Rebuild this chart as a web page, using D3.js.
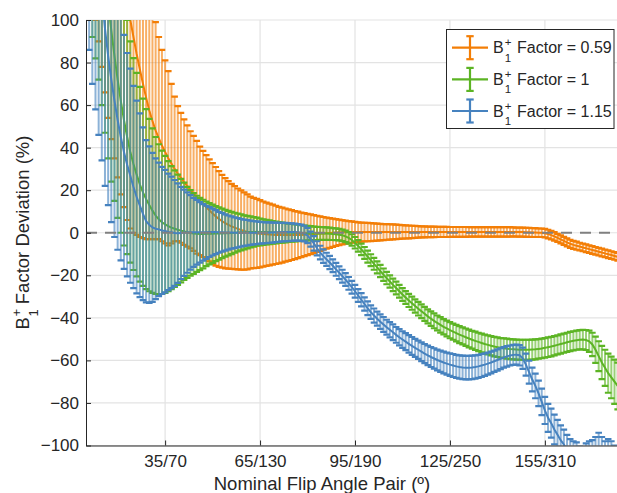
<!DOCTYPE html>
<html><head><meta charset="utf-8">
<script src="https://cdn.jsdelivr.net/npm/d3@7"></script>
<style>
body{margin:0;background:#fff}
svg{display:block}
text{font-family:"Liberation Sans",Arial,Helvetica,sans-serif;fill:#262626}
</style>
</head><body>
<svg id="chart" width="617" height="493"></svg>
<script>
// ---------- DATA ----------
const angles = [
11,12,13,14,15,16,17,18,19,20,
21,22,23,24,25,26,27,28,29,30,
31,32,33,34,35,36,37,38,39,40,
41,42,43,44,45,46,47,48,49,50,
51,52,53,54,55,56,57,58,59,60,
61,62,63,64,65,66,67,68,69,70,
71,72,73,74,75,76,77,78,79,80,
81,82,83,84,85,86,87,88,89,90,
91,92,93,94,95,96,97,98,99,100,
101,102,103,104,105,106,107,108,109,110,
111,112,113,114,115,116,117,118,119,120,
121,122,123,124,125,126,127,128,129,130,
131,132,133,134,135,136,137,138,139,140,
141,142,143,144,145,146,147,148,149,150,
151,152,153,154,155,156,157,158,159,160,
161,162,163,164,165,166,167,168,169,170,
171,172,173,174,175,176,177,178];

const xTickValues = [35,65,95,125,155];
const xTickLabels = ["35/70","65/130","95/190","125/250","155/310"];
const yTickValues = [-100,-80,-60,-40,-20,0,20,40,60,80,100];
const legendLabels = ["0.59","1","1.15"];

// B1+ factor = 0.59
const orangeMean = [
350,313,281,253,228,206,187,170,155,142,
130,119,109,100,92,84,77,70,63.5,57.5,
52.5,48,44.5,41,38,35,32.5,30,27.8,25.8,
23.8,22,20.2,18.5,16.7,15,13.5,12,10.5,9,
7.7,6.5,5.4,4.5,3.7,3,2.4,1.8,1.3,0.8,
0.4,0.1,-0.1,-0.3,-0.5,-0.6,-0.7,-0.8,-0.9,-1,
-1.1,-1.1,-1.1,-1.1,-1.1,-1.1,-1,-1,-0.9,-0.8,
-0.7,-0.6,-0.5,-0.4,-0.3,-0.2,-0.1,0,0.1,0.2,
0.2,0.3,0.3,0.3,0.3,0.3,0.3,0.3,0.3,0.3,
0.3,0.3,0.3,0.3,0.4,0.4,0.4,0.4,0.4,0.4,
0.4,0.4,0.4,0.4,0.4,0.4,0.4,0.4,0.4,0.4,
0.4,0.4,0.4,0.4,0.4,0.4,0.4,0.4,0.4,0.4,
0.4,0.4,0.4,0.4,0.4,0.4,0.4,0.4,0.4,0.4,
0.4,0.4,0.4,0.4,0.4,0.3,0.3,0.3,0.2,0.2,
0.1,0.1,0,0,-0.2,-0.6,-1.1,-1.7,-2.4,-3.1,
-3.8,-4.5,-5.2,-5.7,-6.1,-6.5,-6.9,-7.3,-7.7,-8.1,
-8.5,-8.9,-9.3,-9.7,-10.1,-10.5,-10.9,-11.3];
const orangeErr = [
230,203,181,163,150,140,133,126,120,116,
112,107,103,98,92,85,79,72.5,66.5,60.5,
55.5,51,47.5,45,43,41,37.5,34,31.7,30.5,
29.5,28.5,27.5,27,26.5,25.5,25,24.5,24,23.7,
23.2,22.5,21.8,21.2,20.6,20,19.5,19,18.6,18.2,
17.6,16.9,16.5,16.2,15.8,15.3,14.9,14.5,14.1,13.7,
13.3,12.9,12.5,12.1,11.7,11.3,10.9,10.5,10.1,9.7,
9.3,8.9,8.5,8.1,7.7,7.3,7,6.6,6.3,6,
5.7,5.4,5.2,5,4.8,4.6,4.5,4.4,4.3,4.2,
4.1,4,3.9,3.8,3.7,3.6,3.5,3.4,3.3,3.2,
3.1,3,2.9,2.8,2.7,2.6,2.6,2.5,2.5,2.5,
2.4,2.4,2.4,2.4,2.3,2.3,2.3,2.3,2.3,2.3,
2.2,2.2,2.2,2.2,2.2,2.2,2.2,2.2,2.2,2.2,
2.2,2.2,2.2,2.2,2.1,2.1,2.1,2.1,2.1,2.1,
2.1,2.1,2,2,2,2,2,2,1.9,1.9,
1.9,1.9,1.9,1.9,1.9,1.8,1.8,1.8,1.8,1.8,
1.8,1.8,1.8,1.8,1.8,1.8,1.8,1.8];

// B1+ factor = 1
const greenMean = [
207,188,170,153,137,122,108,95,83,72,
62,53,45,38,32.3,27.3,22.8,19,15.8,13,
10.4,8.1,6.3,4.9,3.9,3.1,2.4,1.9,1.4,1,
0.7,0.2,-0.1,-0.4,-0.5,-0.6,-0.6,-0.5,-0.5,-0.5,
-0.4,-0.4,-0.3,-0.2,-0.2,-0.1,0,0.1,0.2,0.2,
0.3,0.4,0.4,0.5,0.4,0.3,0.3,0.2,0.2,0.1,
0.1,0.1,0,0,0,-0.1,-0.1,-0.1,-0.2,-0.2,
-0.2,-0.3,-0.3,-0.3,-0.4,-0.4,-0.5,-0.6,-0.7,-0.9,
-1.2,-1.7,-2.4,-3.4,-4.7,-6.2,-7.8,-9.5,-11.2,-12.9,
-14.6,-16.3,-18,-19.7,-21.3,-22.9,-24.5,-26,-27.5,-29,
-30.4,-31.8,-33.1,-34.4,-35.7,-36.9,-38.1,-39.3,-40.4,-41.4,
-42.4,-43.3,-44.2,-45,-45.8,-46.5,-47.2,-47.9,-48.5,-49.1,
-49.7,-50.3,-50.8,-51.3,-51.8,-52.3,-52.7,-53.1,-53.5,-53.8,
-54.1,-54.3,-54.5,-54.7,-54.8,-54.9,-55,-55,-55,-55,
-54.9,-54.8,-54.6,-54.4,-54.1,-53.8,-53.5,-53.1,-52.7,-52.3,
-51.9,-51.5,-51.1,-50.8,-50.5,-50.3,-50.2,-50.4,-51,-52.5,
-55,-58,-61,-63.5,-66,-68,-70,-72];
const greenErr = [
103,96,88,81,77,75,73,71,68,65,
62,59,55,52,49.8,47.8,45.8,44,42.3,40.5,
38.7,36.9,35.3,33.7,32.2,30.6,28.9,27.4,25.9,24.3,
22.9,21.4,20.1,19,17.9,17,16.1,15.2,14.4,13.7,
12.9,12.3,11.6,11,10.5,9.9,9.4,8.9,8.5,8,
7.6,7.3,6.9,6.6,6.3,6,5.8,5.6,5.3,5.1,
4.9,4.7,4.5,4.3,4.2,4,3.9,3.7,3.6,3.4,
3.3,3.2,3.1,3,3,2.9,2.9,2.8,2.8,2.7,
2.7,2.7,2.7,2.7,2.7,2.7,2.7,2.8,2.8,2.8,
2.8,2.8,2.9,2.9,2.9,2.9,2.9,3,3,3,
3,3.1,3.1,3.1,3.2,3.2,3.3,3.3,3.4,3.5,
3.5,3.6,3.6,3.7,3.8,3.8,3.9,4,4,4.1,
4.2,4.2,4.3,4.3,4.4,4.4,4.5,4.5,4.6,4.6,
4.6,4.7,4.7,4.7,4.7,4.7,4.7,4.7,4.7,4.7,
4.7,4.7,4.6,4.6,4.6,4.6,4.6,4.5,4.5,4.5,
4.5,4.5,4.5,4.5,4.5,4.5,4.6,4.7,5,5.5,
6.2,7,7.8,8.5,9.2,9.8,10.4,11];

// B1+ factor = 1.15
const blueMean = [
200,172,148,128,111,96,83,72,62,53,
45,38,32,26.8,21.5,16.8,12.9,8.9,5.4,3.8,
2.5,1.9,1.6,1.1,0.8,0.4,0.2,-0.1,-0.2,-0.1,
0,0.1,0.2,0.2,0.2,0.2,0.2,0.2,0.3,0.3,
0.3,0.2,0.2,0.1,0.1,0.1,0,0,0,0,
0,0,0,0,0,0,0,0.1,0.1,0.2,
0.2,0.3,0.3,0.3,0.3,0.3,0.2,0,-0.4,-1.3,
-3,-5,-7.3,-9.3,-11,-12.5,-14,-15.5,-17.2,-18.8,
-20.4,-22,-23.8,-25.6,-27.5,-29.5,-31.5,-33.5,-35.5,-37.3,
-38.9,-40.4,-41.8,-43.1,-44.4,-45.6,-46.8,-48,-49.1,-50.2,
-51.2,-52.2,-53.2,-54.1,-55,-55.9,-56.8,-57.6,-58.4,-59.1,
-59.8,-60.4,-61,-61.5,-62,-62.4,-62.8,-63.1,-63.3,-63.4,
-63.4,-63.3,-63.1,-62.8,-62.4,-62,-61.5,-61,-60.4,-59.8,
-59.2,-58.6,-58.1,-57.7,-57.4,-57.3,-57.6,-59,-62,-65.5,
-69,-72,-75.5,-79.5,-83.5,-87,-89.5,-92.5,-95,-97.5,
-99.5,-102,-104,-105.5,-106,-108,-109,-108,-107,-107,
-106,-105,-106,-108,-107,-108,-110,-112];
const blueErr = [
114,102,90,82,77,74,70,67,64,61,
58,55,52.5,50.3,47.5,45.3,43.2,40.6,38.1,36.8,
35,33.1,31.4,29.9,28.8,27.4,26.2,24.9,23.4,21.7,
20.3,18.9,17.5,16.2,15.2,14.2,13.3,12.5,11.7,11,
10.3,9.6,9.1,8.5,8,7.6,7.2,6.9,6.5,6.2,
6,5.7,5.5,5.3,5.1,5,4.9,4.8,4.7,4.6,
4.5,4.4,4.3,4.2,4.1,4,3.9,3.8,3.7,3.6,
3.5,3.4,3.3,3.2,3.2,3.1,3.1,3,3,3,
3,3,3,3,3,3,3.1,3.1,3.2,3.2,
3.3,3.3,3.4,3.5,3.5,3.6,3.7,3.7,3.8,3.9,
4,4.1,4.2,4.2,4.3,4.4,4.5,4.6,4.7,4.8,
4.9,5,5.1,5.2,5.3,5.4,5.4,5.5,5.5,5.5,
5.5,5.5,5.5,5.4,5.4,5.3,5.2,5.1,5,5,
4.9,4.8,4.8,4.7,4.7,4.7,4.8,5,5.2,5.4,
5.6,5.8,6,6.2,6.4,6.6,6.8,7,7,7,
7,7,7,7.5,7.5,7.5,8,9,9,9.5,
10,11,10,10,10,10,10,10];

const colors = ["#f37e06","#5cb424","#4682bf"];
const series = [
  {label: legendLabels[0], color: colors[0], mean: orangeMean, err: orangeErr},
  {label: legendLabels[1], color: colors[1], mean: greenMean,  err: greenErr},
  {label: legendLabels[2], color: colors[2], mean: blueMean,   err: blueErr}
];

// ---------- LAYOUT ----------
const L = 86, R = 624, T = 20, B = 445.5;
const svg = d3.select("#chart");
const x = d3.scaleLinear().domain([10,180]).range([L,R]);
const y = d3.scaleLinear().domain([-100,100]).range([B,T]);

svg.append("defs").append("clipPath").attr("id","plotclip")
  .append("rect").attr("x",L).attr("y",T).attr("width",R-L).attr("height",B-T);

// grid
const grid = svg.append("g");
grid.selectAll("line.gy").data(yTickValues).join("line")
  .attr("x1",L).attr("x2",R).attr("y1",d=>y(d)).attr("y2",d=>y(d))
  .attr("stroke","#e3e3e3").attr("stroke-width",1.2);
grid.selectAll("line.gx").data(xTickValues).join("line")
  .attr("y1",T).attr("y2",B).attr("x1",d=>x(d)).attr("x2",d=>x(d))
  .attr("stroke","#e3e3e3").attr("stroke-width",1.2);

const plot = svg.append("g").attr("clip-path","url(#plotclip)");
const capHalf = 3.3;

series.forEach(s => {
  const n = Math.min(angles.length, s.mean.length, s.err.length);
  const pts = angles.slice(0,n).map((a,i)=>({a, m:s.mean[i], e:s.err[i]}));
  const g = plot.append("g");
  g.selectAll("line.bar").data(pts).join("line")
    .attr("x1",d=>x(d.a)).attr("x2",d=>x(d.a))
    .attr("y1",d=>y(d.m-d.e)).attr("y2",d=>y(d.m+d.e))
    .attr("stroke",s.color).attr("stroke-width",2).attr("stroke-opacity",0.62);
  g.selectAll("line.capu").data(pts).join("line")
    .attr("x1",d=>x(d.a)-capHalf).attr("x2",d=>x(d.a)+capHalf)
    .attr("y1",d=>y(d.m+d.e)).attr("y2",d=>y(d.m+d.e))
    .attr("stroke",s.color).attr("stroke-width",2.2);
  g.selectAll("line.capl").data(pts).join("line")
    .attr("x1",d=>x(d.a)-capHalf).attr("x2",d=>x(d.a)+capHalf)
    .attr("y1",d=>y(d.m-d.e)).attr("y2",d=>y(d.m-d.e))
    .attr("stroke",s.color).attr("stroke-width",2.2);
  g.append("path").datum(pts)
    .attr("d", d3.line().x(d=>x(d.a)).y(d=>y(d.m)))
    .attr("fill","none").attr("stroke",s.color).attr("stroke-width",2);
});

// zero reference line
plot.append("line").attr("x1",L).attr("x2",R).attr("y1",y(0)).attr("y2",y(0))
  .attr("stroke","#808080").attr("stroke-width",1.8).attr("stroke-dasharray","11,8");

// axes
const yAxis = d3.axisLeft(y).tickValues(yTickValues).tickSizeInner(-5).tickSizeOuter(0).tickPadding(7);
const xAxis = d3.axisBottom(x).tickValues(xTickValues).tickFormat((d,i)=>xTickLabels[i])
  .tickSizeInner(-5).tickSizeOuter(0).tickPadding(9.5);

const gy = svg.append("g").attr("transform",`translate(${L},0)`).call(yAxis);
const gx = svg.append("g").attr("transform",`translate(0,${B})`).call(xAxis);
[gx,gy].forEach(g=>{
  g.selectAll("path.domain").attr("stroke","#262626").attr("stroke-width",1);
  g.selectAll(".tick line").attr("stroke","#262626").attr("stroke-width",1);
  g.selectAll(".tick text").attr("font-size",17).attr("fill","#262626")
    .attr("font-family",'"Liberation Sans",Arial,Helvetica,sans-serif');
});

// axis titles
svg.append("text").attr("x",322).attr("y",490).attr("text-anchor","middle")
  .attr("font-size",18.5).text("Nominal Flip Angle Pair (º)");

const yt = svg.append("text").attr("transform","translate(28.5,232.5) rotate(-90)")
  .attr("text-anchor","middle").attr("font-size",18.5);
yt.append("tspan").text("B");
yt.append("tspan").attr("font-size",13).attr("dx",0.5).attr("dy",-8).text("+");
yt.append("tspan").attr("font-size",13).attr("dx",-7.6).attr("dy",17).text("1");
yt.append("tspan").attr("font-size",18.5).attr("dy",-9).text(" Factor Deviation (%)");

// legend
const lg = svg.append("g");
lg.append("rect").attr("x",446.5).attr("y",29.5).attr("width",167.5).attr("height",99)
  .attr("fill","#fff").attr("stroke","#262626").attr("stroke-width",1);
const rowY = [47.7, 79.4, 111];
series.forEach((s,i)=>{
  const cy = rowY[i];
  lg.append("line").attr("x1",452).attr("x2",488).attr("y1",cy).attr("y2",cy)
    .attr("stroke",s.color).attr("stroke-width",2.2);
  lg.append("line").attr("x1",470).attr("x2",470).attr("y1",cy-11.5).attr("y2",cy+11.5)
    .attr("stroke",s.color).attr("stroke-width",2.2);
  [cy-11.5, cy+11.5].forEach(v=>{
    lg.append("line").attr("x1",466.3).attr("x2",473.7).attr("y1",v).attr("y2",v)
      .attr("stroke",s.color).attr("stroke-width",2.2);
  });
  const t = lg.append("text").attr("x",493).attr("y",cy+5.6).attr("font-size",16);
  t.append("tspan").text("B");
  t.append("tspan").attr("font-size",11.5).attr("dx",1).attr("dy",-6.9).text("+");
  t.append("tspan").attr("font-size",11.5).attr("dx",-6.7).attr("dy",15.3).text("1");
  t.append("tspan").attr("font-size",16).attr("dx",1.5).attr("dy",-8.4).text(" Factor = " + s.label);
});
</script>
</body></html>
